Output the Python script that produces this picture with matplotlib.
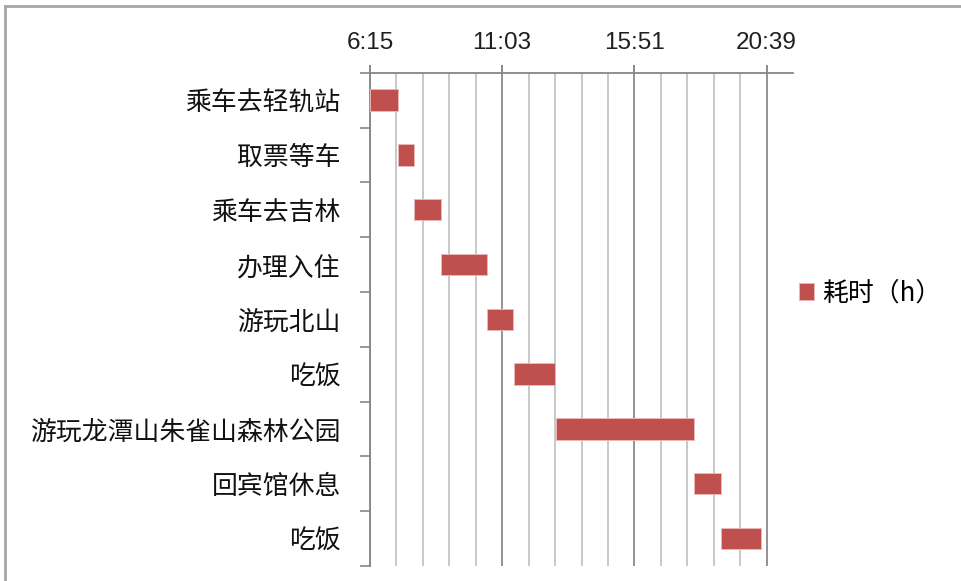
import matplotlib
matplotlib.use("Agg")
import matplotlib.pyplot as plt
from matplotlib.lines import Line2D
from matplotlib.ticker import FixedLocator, NullFormatter

plt.rcParams['font.family'] = ['Noto Sans CJK SC', 'DejaVu Sans']

# Itinerary: activity, start time, duration in hours
activities = ["乘车去轻轨站", "取票等车", "乘车去吉林", "办理入住", "游玩北山",
              "吃饭", "游玩龙潭山朱雀山森林公园", "回宾馆休息", "吃饭"]
start_times = ["6:15", "7:15", "7:50", "8:50", "10:30", "11:28", "13:00", "18:00", "19:00"]
durations_h = [1.0, 0.58, 1.0, 1.67, 0.95, 1.5, 5.0, 1.0, 1.45]
legend_label = "耗时（h）"
time_ticks = ["6:15", "11:03", "15:51", "20:39"]


def to_hours(s):
    h, m = s.split(":")
    return int(h) + int(m) / 60.0


starts = [to_hours(s) for s in start_times]
tick_pos = [to_hours(s) for s in time_ticks]
major_step = tick_pos[1] - tick_pos[0]          # 4.8 h
minor_step = major_step / 5                      # 0.96 h
x_min = tick_pos[0]
x_max = tick_pos[-1] + minor_step
minor_pos = [x_min + k * minor_step for k in range(1, 16) if k % 5]

W, H = 962, 581
fig = plt.figure(figsize=(W / 100, H / 100), dpi=100)
fig.patch.set_facecolor("white")

# outer chart frame (top and left edges visible)
frame_col = "#a6a6a6"
fig.add_artist(Line2D([5 / W, 1.01], [1 - 6 / H, 1 - 6 / H], color=frame_col, lw=2,
                      transform=fig.transFigure))
fig.add_artist(Line2D([5 / W, 5 / W], [1 - 6 / H, -0.01], color=frame_col, lw=2,
                      transform=fig.transFigure))

ax = fig.add_axes([370 / W, 1 - 566 / H, (793 - 370) / W, (566 - 72.7) / H])

y = list(range(len(activities)))
bars = ax.barh(y, durations_h, left=starts, height=0.39, color="#c0504d",
               edgecolor="#e9b8b6", linewidth=0.7, label=legend_label, zorder=3)

ax.set_xlim(x_min, x_max)
ax.set_ylim(len(activities) - 0.5, -0.5)

# x axis on top with major/minor vertical gridlines
ax.xaxis.tick_top()
ax.xaxis.set_major_locator(FixedLocator(tick_pos))
ax.set_xticklabels(time_ticks, family="Liberation Sans", fontsize=17.5, color="#1f1f1f")
ax.xaxis.set_minor_locator(FixedLocator(minor_pos))
ax.xaxis.set_minor_formatter(NullFormatter())
ax.tick_params(axis="x", which="major", direction="out", length=5.5, width=1.2,
               color="#777777", pad=8)
ax.tick_params(axis="x", which="minor", length=0)
ax.grid(axis="x", which="major", color="#8a8a8a", lw=1.3, zorder=1)
ax.grid(axis="x", which="minor", color="#c4c4c4", lw=1.3, zorder=1)

# y axis: boundary tick marks, labels centred on categories
bounds = [i - 0.5 for i in range(len(activities) + 1)]
ax.yaxis.set_major_locator(FixedLocator(bounds))
ax.yaxis.set_major_formatter(NullFormatter())
ax.yaxis.set_minor_locator(FixedLocator(y))
ax.set_yticklabels(activities, minor=True, fontsize=18.6, color="#111111")
ax.tick_params(axis="y", which="major", direction="out", length=7.2, width=1.2,
               color="#868686")
ax.tick_params(axis="y", which="minor", length=0, pad=21)

for side in ("right", "bottom"):
    ax.spines[side].set_visible(False)
for side in ("top", "left"):
    ax.spines[side].set_color("#868686")
    ax.spines[side].set_linewidth(1.3)

fig.legend(handles=[bars], labels=[legend_label], loc="center left",
           bbox_to_anchor=(799 / W, 1 - 293 / H), frameon=False, fontsize=18.6,
           handlelength=0.6, handleheight=0.6, handletextpad=0.3,
           borderpad=0, borderaxespad=0)

fig.savefig("out.png", dpi=100, facecolor="white")
